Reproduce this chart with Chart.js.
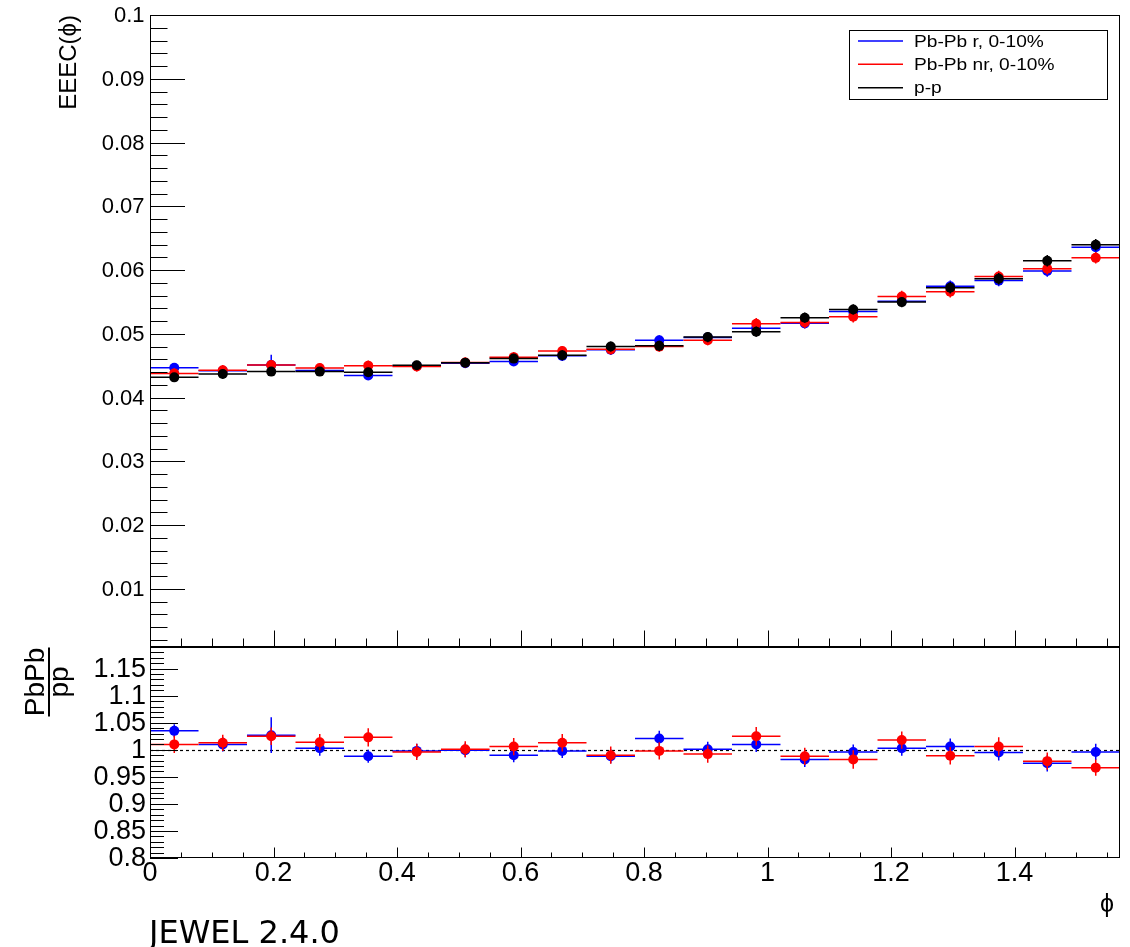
<!DOCTYPE html>
<html>
<head>
<meta charset="utf-8">
<title>EEEC(ϕ) JEWEL 2.4.0</title>
<script src="https://cdn.jsdelivr.net/npm/chart.js@4.4.1/dist/chart.umd.min.js"></script>
<style>
  html, body { margin: 0; padding: 0; background: #ffffff; }
  #wrap { position: relative; width: 1130px; height: 947px; overflow: hidden; background: #ffffff; }
  #wrap canvas { position: absolute; left: 0; }
  #topPanel { top: 0; }
  #ratioPanel { top: 647px; }
</style>
</head>
<body>
<div id="wrap">
  <canvas id="topPanel" width="1130" height="650"></canvas>
  <canvas id="ratioPanel" width="1130" height="300"></canvas>
</div>
<script>
// ---- binning in phi (20 bins over 0 .. pi/2) ----
const binCenters = [0.0393, 0.1178, 0.1963, 0.2749, 0.3534, 0.4320, 0.5105, 0.5890, 0.6676, 0.7461,
                    0.8247, 0.9032, 0.9817, 1.0603, 1.1388, 1.2174, 1.2959, 1.3744, 1.4530, 1.5315];
const binHalfWidth = 0.03927;
const phiMax = 1.5708;

// ---- EEEC(phi) ----
const eeecPbPbR  = [0.04470, 0.04420, 0.04512, 0.04425, 0.04348, 0.04498, 0.04540, 0.04567, 0.04655, 0.04750,
                    0.04898, 0.04945, 0.05088, 0.05165, 0.05350, 0.05510, 0.05745, 0.05835, 0.05985, 0.06360];
const eeecPbPbNR = [0.04380, 0.04430, 0.04512, 0.04465, 0.04502, 0.04490, 0.04552, 0.04635, 0.04730, 0.04757,
                    0.04800, 0.04900, 0.05158, 0.05180, 0.05270, 0.05585, 0.05660, 0.05900, 0.06020, 0.06192];
const eeecPP     = [0.04318, 0.04372, 0.04408, 0.04408, 0.04398, 0.04507, 0.04549, 0.04612, 0.04665, 0.04802,
                    0.04812, 0.04950, 0.05034, 0.05254, 0.05383, 0.05498, 0.05722, 0.05866, 0.06145, 0.06396];
const errPbPbR   = [0.0007, 0.0007, 0.0016, 0.0007, 0.0007, 0.0007, 0.0007, 0.0007, 0.0008, 0.0008,
                    0.0008, 0.0008, 0.0008, 0.0008, 0.0008, 0.0008, 0.0009, 0.0009, 0.0009, 0.0009];
const errPbPbNR  = [0.0008, 0.0008, 0.0008, 0.0008, 0.0008, 0.0008, 0.0008, 0.0008, 0.0008, 0.0008,
                    0.0008, 0.0008, 0.0009, 0.0009, 0.0009, 0.0009, 0.0009, 0.0009, 0.0009, 0.0009];
const errPP      = [0.0007, 0.0007, 0.0007, 0.0007, 0.0007, 0.0007, 0.0007, 0.0007, 0.0008, 0.0008,
                    0.0008, 0.0008, 0.0008, 0.0008, 0.0008, 0.0008, 0.0009, 0.0009, 0.0009, 0.0009];

// ---- PbPb / pp ----
const ratioR     = [1.035, 1.010, 1.027, 1.003, 0.988, 0.998, 0.999, 0.990, 0.998, 0.988,
                    1.021, 1.001, 1.010, 0.982, 0.996, 1.003, 1.006, 0.995, 0.975, 0.996];
const ratioNR    = [1.010, 1.013, 1.025, 1.014, 1.023, 0.996, 1.001, 1.006, 1.013, 0.990,
                    0.998, 0.992, 1.025, 0.988, 0.982, 1.018, 0.989, 1.006, 0.979, 0.967];
const ratioErrR  = [0.012, 0.013, 0.033, 0.014, 0.012, 0.013, 0.013, 0.013, 0.013, 0.013,
                    0.014, 0.014, 0.014, 0.014, 0.014, 0.014, 0.015, 0.015, 0.015, 0.015];
const ratioErrNR = [0.016, 0.015, 0.016, 0.015, 0.017, 0.015, 0.015, 0.016, 0.016, 0.016,
                    0.016, 0.016, 0.017, 0.016, 0.017, 0.016, 0.016, 0.017, 0.016, 0.015];

// ---- labels ----
const seriesLabels    = ['Pb-Pb r, 0-10%', 'Pb-Pb nr, 0-10%', 'p-p'];
const seriesColors    = ['#0000ff', '#ff0000', '#000000'];
const topTickLabels   = ['0.01', '0.02', '0.03', '0.04', '0.05', '0.06', '0.07', '0.08', '0.09', '0.1'];
const ratioTickLabels = ['0.8', '0.85', '0.9', '0.95', '1', '1.05', '1.1', '1.15'];
const phiTickLabels   = ['0', '0.2', '0.4', '0.6', '0.8', '1', '1.2', '1.4'];
const topTitle   = 'EEEC(ϕ)';
const phiTitle   = 'ϕ';
const ratioNum   = 'PbPb';
const ratioDen   = 'pp';
const generator  = 'JEWEL 2.4.0';

const FONT = '"Liberation Sans", Arial, Helvetica, sans-serif';

function points(values) {
  return binCenters.map((x, i) => ({ x: x, y: values[i] }));
}

// Frame, inward ticks, labels, bin-width bars and error bars for one pad.
function makePadPlugin(cfg) {
  return {
    id: 'pad_' + cfg.name,
    beforeDatasetsDraw(chart) {
      if (cfg.refLine === undefined) return;
      const ctx = chart.ctx, a = chart.chartArea, ys = chart.scales.y;
      const y = Math.round(ys.getPixelForValue(cfg.refLine)) + 0.5;
      ctx.save();
      ctx.strokeStyle = '#000';
      ctx.lineWidth = 1.2;
      ctx.setLineDash([3, 3]);
      ctx.beginPath();
      ctx.moveTo(a.left, y);
      ctx.lineTo(a.right, y);
      ctx.stroke();
      ctx.restore();
    },
    beforeDatasetDraw(chart, args) {
      const ds = chart.data.datasets[args.index];
      const xs = chart.scales.x, ys = chart.scales.y, ctx = chart.ctx;
      ctx.save();
      ctx.strokeStyle = ds.borderColor;
      ctx.lineWidth = 1.5;
      ds.data.forEach((p, i) => {
        const y = ys.getPixelForValue(p.y);
        const x = xs.getPixelForValue(p.x);
        ctx.beginPath();
        ctx.moveTo(xs.getPixelForValue(p.x - binHalfWidth), y);
        ctx.lineTo(xs.getPixelForValue(p.x + binHalfWidth), y);
        ctx.moveTo(x, ys.getPixelForValue(p.y - ds.errors[i]));
        ctx.lineTo(x, ys.getPixelForValue(p.y + ds.errors[i]));
        ctx.stroke();
      });
      ctx.restore();
    },
    afterDraw(chart) {
      const ctx = chart.ctx, a = chart.chartArea;
      const xs = chart.scales.x, ys = chart.scales.y;
      ctx.save();
      ctx.strokeStyle = '#000';
      ctx.fillStyle = '#000';
      ctx.lineWidth = 1;

      // frame
      ctx.strokeRect(a.left + 0.5, a.top + 0.5, a.right - a.left - 1, a.bottom - a.top - 1);

      // y ticks (inward from the left edge)
      ctx.beginPath();
      cfg.yMinor.forEach(v => {
        const y = Math.round(ys.getPixelForValue(v)) + 0.5;
        ctx.moveTo(a.left, y); ctx.lineTo(a.left + cfg.yMinorLen, y);
      });
      cfg.yLabels.forEach(t => {
        const y = Math.round(ys.getPixelForValue(Number(t))) + 0.5;
        ctx.moveTo(a.left, y); ctx.lineTo(a.left + cfg.yMajorLen, y);
      });
      // x ticks (inward from the bottom edge)
      const bottom = a.bottom - 0.5;
      xMinorTicks.forEach(v => {
        const x = Math.round(xs.getPixelForValue(v)) + 0.5;
        ctx.moveTo(x, bottom); ctx.lineTo(x, bottom - cfg.xMinorLen);
      });
      phiTickLabels.forEach(t => {
        const x = Math.round(xs.getPixelForValue(Number(t))) + 0.5;
        ctx.moveTo(x, bottom); ctx.lineTo(x, bottom - cfg.xMajorLen);
      });
      ctx.stroke();

      // y tick labels
      ctx.font = cfg.yFont + 'px ' + FONT;
      ctx.textAlign = 'right';
      ctx.textBaseline = 'middle';
      cfg.yLabels.forEach(t => {
        ctx.fillText(t, cfg.yLabelRight, ys.getPixelForValue(Number(t)) + 1);
      });

      // x tick labels
      if (cfg.xLabelY !== undefined) {
        ctx.font = cfg.xFont + 'px ' + FONT;
        ctx.textAlign = 'center';
        ctx.textBaseline = 'middle';
        phiTickLabels.forEach(t => {
          ctx.fillText(t, xs.getPixelForValue(Number(t)), cfg.xLabelY);
        });
      }
      ctx.restore();
      cfg.decorate(chart);
    }
  };
}

const xMinorTicks = [];
for (let k = 1; k * 0.05 < phiMax; k++) if (k % 4 !== 0) xMinorTicks.push(k * 0.05);

const topMinor = [];
for (let k = 1; k < 50; k++) if (k % 5 !== 0) topMinor.push(k * 0.002);

const ratioMinor = [];
for (let k = 1; k <= 38; k++) if (k % 5 !== 0) ratioMinor.push(0.8 + k * 0.01);

function drawTopDecor(chart) {
  const ctx = chart.ctx;
  ctx.save();
  ctx.fillStyle = '#000';
  // y-axis title, aligned to the top of the axis
  ctx.translate(76, 15);
  ctx.rotate(-Math.PI / 2);
  ctx.font = '24px ' + FONT;
  ctx.textAlign = 'right';
  ctx.textBaseline = 'alphabetic';
  ctx.fillText(topTitle, 0, 0);
  ctx.restore();

  // legend box
  ctx.save();
  ctx.fillStyle = '#fff';
  ctx.fillRect(849.5, 30.5, 258, 69);
  ctx.strokeStyle = '#000';
  ctx.lineWidth = 1;
  ctx.strokeRect(849.5, 30.5, 258, 69);
  const rows = [41, 64.3, 87.7];
  seriesLabels.forEach((lab, i) => {
    ctx.strokeStyle = seriesColors[i];
    ctx.lineWidth = 1.5;
    ctx.beginPath();
    ctx.moveTo(858, rows[i]);
    ctx.lineTo(903, rows[i]);
    ctx.stroke();
    ctx.save();
    ctx.translate(914, rows[i] + 1);
    ctx.scale(1.16, 1);
    ctx.fillStyle = '#000';
    ctx.font = '16.5px ' + FONT;
    ctx.textAlign = 'left';
    ctx.textBaseline = 'middle';
    ctx.fillText(lab, 0, 0);
    ctx.restore();
  });
  ctx.restore();
}

function drawRatioDecor(chart) {
  const ctx = chart.ctx;
  ctx.save();
  ctx.fillStyle = '#000';
  ctx.strokeStyle = '#000';
  // PbPb / pp fraction title (rotated)
  ctx.translate(0, 35);
  ctx.rotate(-Math.PI / 2);
  ctx.font = '28px ' + FONT;
  ctx.textAlign = 'center';
  ctx.textBaseline = 'alphabetic';
  ctx.fillText(ratioNum, 0, 44);
  ctx.fillText(ratioDen, 0, 68);
  ctx.lineWidth = 2;
  ctx.beginPath();
  ctx.moveTo(-34.5, 49);
  ctx.lineTo(34.5, 49);
  ctx.stroke();
  ctx.restore();

  // x-axis title
  ctx.save();
  ctx.fillStyle = '#000';
  ctx.font = '25px ' + FONT;
  ctx.textAlign = 'right';
  ctx.textBaseline = 'alphabetic';
  ctx.fillText(phiTitle, 1114, 265);
  // generator tag
  ctx.font = '32px "DejaVu Sans", sans-serif';
  ctx.textAlign = 'left';
  ctx.fillText(generator, 149, 296);
  ctx.restore();
}

const baseOptions = (yMin, yMax, padding) => ({
  responsive: false,
  devicePixelRatio: 1,
  animation: false,
  events: [],
  layout: { padding: padding, autoPadding: false },
  plugins: { legend: { display: false }, tooltip: { enabled: false }, title: { display: false } },
  scales: {
    x: { type: 'linear', min: 0, max: phiMax, display: false },
    y: { type: 'linear', min: yMin, max: yMax, display: false }
  },
  elements: { point: { radius: 5, borderWidth: 0, hoverRadius: 5 } }
});

function seriesDataset(label, values, errors, color) {
  return {
    label: label,
    data: points(values),
    errors: errors,
    showLine: false,
    borderColor: color,
    backgroundColor: color,
    pointBackgroundColor: color,
    pointBorderColor: color,
    pointRadius: 5,
    pointBorderWidth: 0,
    clip: false
  };
}

// upper pad: EEEC(phi)
new Chart(document.getElementById('topPanel'), {
  type: 'scatter',
  data: {
    datasets: [
      seriesDataset(seriesLabels[2], eeecPP, errPP, seriesColors[2]),
      seriesDataset(seriesLabels[1], eeecPbPbNR, errPbPbNR, seriesColors[1]),
      seriesDataset(seriesLabels[0], eeecPbPbR, errPbPbR, seriesColors[0])
    ]
  },
  options: baseOptions(0.0009, 0.1, { left: 150, right: 10, top: 15, bottom: 3 }),
  plugins: [makePadPlugin({
    name: 'top',
    yLabels: topTickLabels, yMinor: topMinor,
    yMajorLen: 35, yMinorLen: 17.5, yFont: 22, yLabelRight: 144.5,
    xMajorLen: 16, xMinorLen: 8,
    decorate: drawTopDecor
  })]
});

// lower pad: PbPb / pp
new Chart(document.getElementById('ratioPanel'), {
  type: 'scatter',
  data: {
    datasets: [
      seriesDataset(seriesLabels[1], ratioNR, ratioErrNR, seriesColors[1]),
      seriesDataset(seriesLabels[0], ratioR, ratioErrR, seriesColors[0])
    ]
  },
  options: baseOptions(0.8, 1.19, { left: 150, right: 10, top: 0, bottom: 89 }),
  plugins: [makePadPlugin({
    name: 'ratio',
    refLine: 1,
    yLabels: ratioTickLabels, yMinor: ratioMinor,
    yMajorLen: 28, yMinorLen: 14, yFont: 27, yLabelRight: 146,
    xMajorLen: 10, xMinorLen: 5, xFont: 27, xLabelY: 227,
    decorate: drawRatioDecor
  })]
});
</script>
</body>
</html>
